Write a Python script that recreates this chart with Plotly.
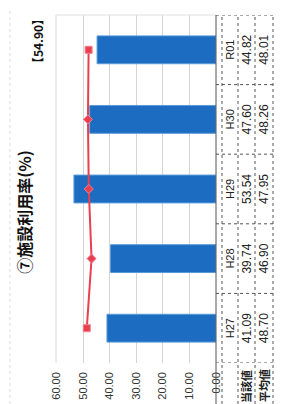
import plotly.graph_objects as go

categories = ["H27", "H28", "H29", "H30", "R01"]
own_values = [41.09, 39.74, 53.54, 47.60, 44.82]
avg_values = [48.70, 46.90, 47.95, 48.26, 48.01]
row_headers = ["当該値", "平均値"]
value_ticks = [0, 10, 20, 30, 40, 50, 60]
title_text = "⑦施設利用率(%)"
reference_value = 54.90

OFF = 8  # page body margin
W, H = 287 - OFF, 404 - OFF
PY0, PY1 = 15, 363  # plot area top / bottom in reference pixels

def px(p):
    return (p - OFF) / W

def py(p):
    return 1 - (p - OFF) / H

JP = "Noto Sans CJK JP"
NUM = "Liberation Sans Narrow, Liberation Sans, Arial"
BLUE = "#1c6cc2"
RED = "#e8404f"

fig = go.Figure()
fig.add_trace(go.Bar(
    y=categories, x=own_values, orientation="h",
    marker=dict(color=BLUE, line=dict(color="#5a9ad8", width=1)),
    showlegend=False, hoverinfo="skip",
))
fig.add_trace(go.Scatter(
    y=categories, x=avg_values, mode="lines+markers",
    line=dict(color=RED, width=2),
    marker=dict(symbol=["square", "diamond", "diamond", "diamond", "square"],
                size=7, color=RED, line=dict(color="#f08090", width=1)),
    showlegend=False, hoverinfo="skip",
))

fig.update_layout(
    width=W, height=H,
    margin=dict(l=0, r=0, t=0, b=0, pad=0, autoexpand=False),
    paper_bgcolor="white", plot_bgcolor="white",
    bargap=0.6,
    xaxis=dict(domain=[px(56), px(216)], range=[60.3, 0], tickvals=value_ticks,
               tickformat=".2f", tickangle=-90, showgrid=True, gridcolor="#d4d4d4",
               gridwidth=1, zeroline=False, showline=False, ticks="",
               ticklabelstandoff=6, automargin=False,
               tickfont=dict(family=NUM, size=11, color="#333333")),
    yaxis=dict(domain=[py(PY1), py(PY0)], type="category", categoryorder="array",
               categoryarray=categories, range=[-0.5, len(categories) - 0.5],
               showticklabels=False, showgrid=False, zeroline=False,
               showline=False, automargin=False),
    font=dict(family=JP),
)

shapes = []
shapes.append(dict(type="line", xref="paper", yref="paper", x0=px(56), x1=px(56),
                   y0=py(PY1), y1=py(PY0), line=dict(color="#d8d8d8", width=1)))
shapes.append(dict(type="line", xref="paper", yref="paper", x0=px(56), x1=px(216),
                   y0=py(PY0), y1=py(PY0), line=dict(color="#e0e0e0", width=1)))
col_lines = [216, 222, 238, 255, 273]
for i, c in enumerate(col_lines):
    shapes.append(dict(type="line", xref="paper", yref="paper",
                       x0=px(c), x1=px(c), y0=0, y1=py(PY0),
                       line=dict(color="#555555", width=1, dash="dot" if i > 0 else "solid")))
for k in range(len(categories) + 1):
    shapes.append(dict(type="line", xref="paper", yref="y",
                       x0=px(216), x1=px(273), y0=k - 0.5, y1=k - 0.5,
                       line=dict(color="#555555", width=1, dash="dot")))
shapes.append(dict(type="line", xref="paper", yref="paper", x0=px(10), x1=px(10),
                   y0=0, y1=1, line=dict(color="#dddddd", width=1, dash="dot")))

# rotated title and reference value drawn as labels of invisible boxes
def label_box(xc, yc, w, h, text, size):
    return dict(type="rect", xref="paper", yref="paper",
                x0=px(xc - w / 2), x1=px(xc + w / 2),
                y0=py(yc + h / 2), y1=py(yc - h / 2),
                line=dict(width=0), fillcolor="rgba(0,0,0,0)",
                label=dict(text=text, textangle=-90, textposition="middle center",
                           font=dict(family=JP, size=size, color="#111111")))

shapes.append(label_box(27, 212, 24, 150, f"<b>{title_text}</b>", 16))
shapes.append(label_box(39, 41, 20, 60, f"<b>【{reference_value:.2f}】</b>", 12))
fig.update_layout(shapes=shapes)

def A(xp, y, text, size, family, yref="paper", color="#222222"):
    return dict(x=px(xp), y=y, xref="paper", yref=yref, text=text, textangle=-90,
                xanchor="center", yanchor="middle", showarrow=False,
                font=dict(family=family, size=size, color=color))

ann = []
for cat, a, b in zip(categories, own_values, avg_values):
    ann.append(A(230, cat, cat, 11, NUM, yref="y"))
    ann.append(A(247, cat, f"{a:.2f}", 12, NUM, yref="y"))
    ann.append(A(264, cat, f"{b:.2f}", 12, NUM, yref="y"))
for xx, t in zip([246, 264], row_headers):
    ann.append(A(xx, py(386), f"<b>{t}</b>", 11, JP))
fig.update_layout(annotations=ann)

fig.write_html("out.html")
